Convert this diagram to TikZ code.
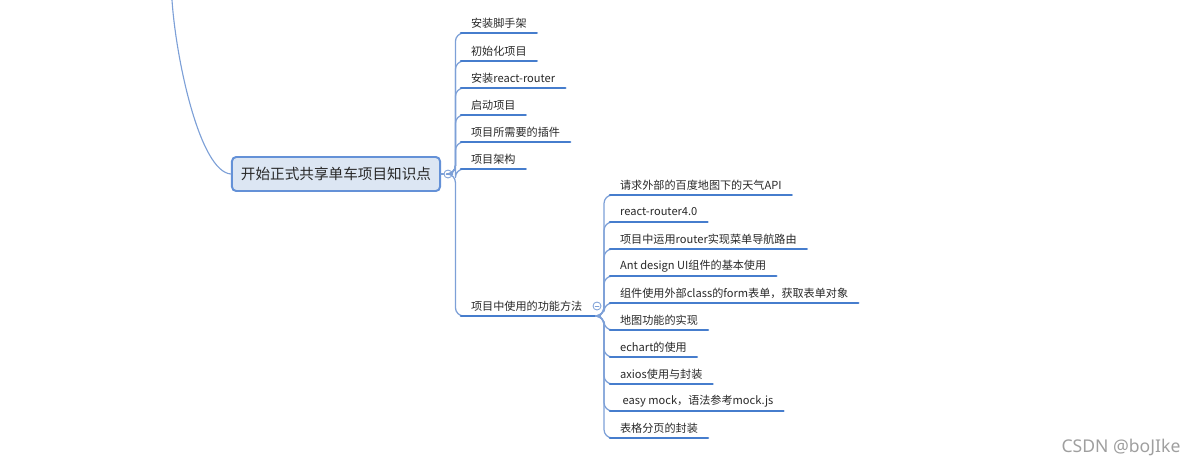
\documentclass[tikz,border=0pt]{standalone}
\usepackage{fontspec}
\setmainfont{Noto Sans CJK SC}
\newfontfamily\marksans{Noto Sans}
\usepackage{tikz}
\usetikzlibrary{
  calc,        % 坐标计算
  positioning  % 节点相对定位
}
\definecolor{linkblue}{RGB}{125,160,215}
\definecolor{lineblue}{RGB}{70,125,205}
\definecolor{rootfill}{RGB}{220,230,243}
\definecolor{rootedge}{RGB}{100,145,215}
\definecolor{textgray}{RGB}{40,40,40}
\tikzset{
  root box/.style={
    draw=rootedge,
    fill=rootfill,
    line width=1.4pt,
    rounded corners=3pt,
    minimum width=5.2cm,
    minimum height=0.85cm,
    text=textgray,
    font=\fontsize{10.4}{12}\selectfont
  },
  topic/.style={
    anchor=south west,
    inner xsep=7pt,
    inner ysep=0pt,
    minimum height=0.49cm,
    text=textgray,
    font=\fontsize{7.9}{9}\selectfont
  },
  underline/.style={
    draw=lineblue,
    line width=1.8pt
  },
  branch/.style={
    draw=linkblue,
    line width=0.9pt,
    rounded corners=6pt
  },
  fold/.style={
    circle,
    draw=linkblue,
    fill=white,
    line width=0.6pt,
    inner sep=0pt,
    minimum size=0.2cm,
    path picture={
      \draw[linkblue,line width=0.5pt]
        ([xshift=1.5pt]path picture bounding box.west) --
        ([xshift=-1.5pt]path picture bounding box.east);
    }
  }
}

\begin{document}
\begin{tikzpicture}[x=0.025cm, y=-0.025cm, line join=round, line cap=round]
  % 画布大小（按像素坐标）
  \useasboundingbox (0,0) rectangle (1200,470);

  % ===================================
  % 中心主题
  % ===================================
  \node[root box] (root) at (336,174) {开始正式共享单车项目知识点};
  \coordinate (up) at (172,0);
  % 左侧连向上一级主题的曲线
  \draw[linkblue, line width=0.8pt] (root.west) .. controls (200,172) and (176,60) .. (up);

  % ===================================
  % 一级分支
  % ===================================
  \node[topic] (s1) at (461,33)  {安装脚手架};
  \node[topic] (s2) at (461,61)  {初始化项目};
  \node[topic] (s3) at (461,88)  {安装react-router};
  \node[topic] (s4) at (461,115) {启动项目};
  \node[topic] (s5) at (461,142) {项目所需要的插件};
  \node[topic] (s6) at (461,169) {项目架构};
  \node[topic] (fn) at (461,316) {项目中使用的功能方法};
  \coordinate (fnend) at (600,316);

  % 折叠按钮与连线
  \node[fold] (c1) at (448,174) {};
  \draw[branch] (root.east) -- (c1.west);
  \foreach \n in {s1,s2,s3,s4,s5,s6,fn} {
    \draw[branch] (c1.east) -- ++(3,0) |- (\n.south west);
  }
  \foreach \n in {s1,s2,s3,s4,s5,s6} {
    \draw[underline] (\n.south west) -- (\n.south east);
  }
  \draw[underline] (fn.south west) -- (fnend);

  % ===================================
  % 二级分支（功能方法）
  % ===================================
  \foreach \t [count=\i] in {
      请求外部的百度地图下的天气API,
      react-router4.0,
      项目中运用router实现菜单导航路由,
      Ant design UI组件的基本使用,
      组件使用外部class的form表单，获取表单对象,
      地图功能的实现,
      echart的使用,
      axios使用与封装,
      \ easy mock，语法参考mock.js,
      表格分页的封装} {
    \node[topic] (k\i) at (610,{195+27*(\i-1)}) {\t};
    \draw[branch] (fnend) -- ++(4,0) |- (k\i.south west);
    \draw[underline] (k\i.south west) -- (k\i.south east);
  }
  \node[fold] (c2) at (597,306) {};

  % 水印
  \node[text=gray!75, font=\marksans\fontsize{12.5}{14}\selectfont] (mark) at (1121,447) {CSDN @boJIke};
\end{tikzpicture}
\end{document}
